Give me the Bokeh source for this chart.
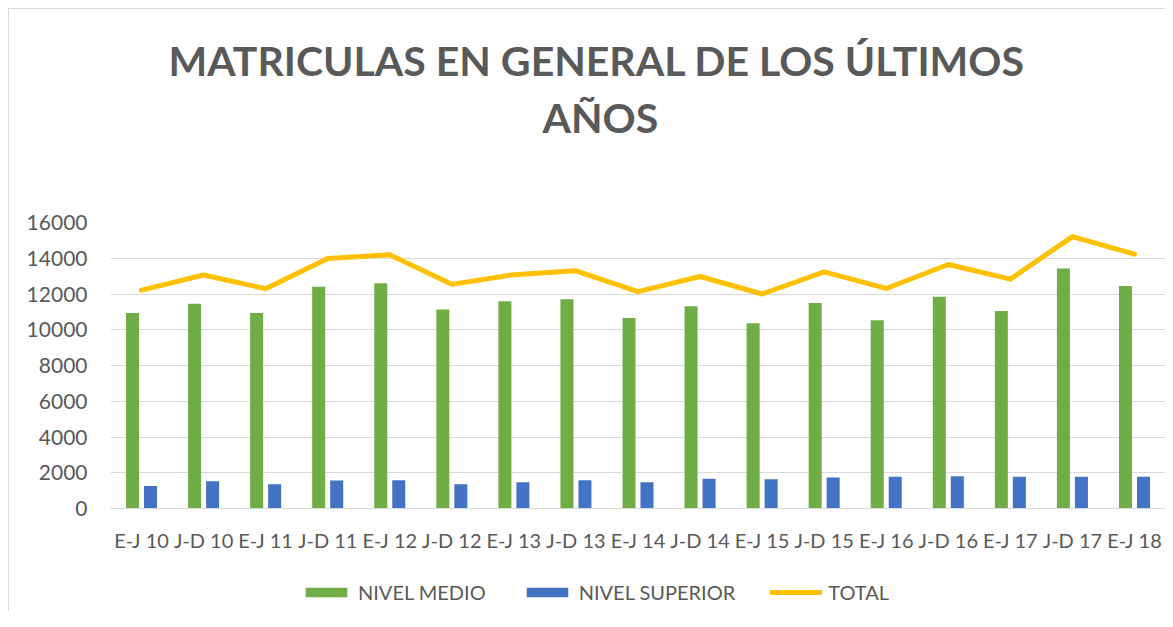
from bokeh.plotting import figure
from bokeh.layouts import column
from bokeh.models import (ColumnDataSource, FactorRange, Range1d, FixedTicker, Legend,
                          LegendItem, Title)
from bokeh.transform import dodge
from bokeh.embed import file_html
from bokeh.resources import INLINE

categories = ["E-J 10", "J-D 10", "E-J 11", "J-D 11", "E-J 12", "J-D 12", "E-J 13", "J-D 13",
              "E-J 14", "J-D 14", "E-J 15", "J-D 15", "E-J 16", "J-D 16", "E-J 17", "J-D 17",
              "E-J 18"]
nivel_medio = [10940, 11460, 10940, 12410, 12600, 11130, 11600, 11710, 10660, 11310, 10370,
               11500, 10530, 11850, 11050, 13430, 12450]
nivel_superior = [1260, 1520, 1350, 1560, 1580, 1350, 1470, 1580, 1470, 1670, 1630, 1740,
                  1780, 1800, 1780, 1780, 1780]
total = [12220, 13060, 12300, 13990, 14190, 12540, 13080, 13300, 12130, 12980, 12000, 13240,
         12310, 13650, 12830, 15210, 14230]
y_ticks = [0, 2000, 4000, 6000, 8000, 10000, 12000, 14000, 16000]

title_line1 = "MATRICULAS EN GENERAL DE LOS ÚLTIMOS"
title_line2 = "AÑOS"
legend_labels = ["NIVEL MEDIO", "NIVEL SUPERIOR", "TOTAL"]

src = ColumnDataSource(dict(cat=categories, medio=nivel_medio, sup=nivel_superior, tot=total))

FONT = "Lato"
TXT = "#595959"
GRID = "#d9d9d9"
GREEN, BLUE, GOLD = "#70AD47", "#4472C4", "#FFC000"

# ---------------- main chart ----------------
p = figure(width=1165, frame_width=1055, frame_height=286,
           x_range=FactorRange(*categories, range_padding=0),
           y_range=Range1d(0, 16000), output_backend="svg", toolbar_location=None,
           min_border_left=110, min_border_right=0, min_border_top=222, min_border_bottom=53,
           background_fill_color="white", border_fill_alpha=0)
p.outline_line_color = None

title_style = dict(align="left", text_font=FONT, text_font_size="41px",
                   text_font_style="bold", text_color=TXT)
spacer = Title(text=" ", standoff=30, **title_style)
t2 = Title(text=title_line2, standoff=0, offset=432, **title_style)
t1 = Title(text=title_line1, standoff=12, offset=58, **title_style)
p.add_layout(spacer, "above")
p.add_layout(t2, "above")
p.add_layout(t1, "above")

bar_kw = dict(width=0.21, source=src, line_color=None)
p.vbar(x=dodge("cat", -0.145, range=p.x_range), top="medio", fill_color=GREEN, **bar_kw)
p.vbar(x=dodge("cat", 0.145, range=p.x_range), top="sup", fill_color=BLUE, **bar_kw)
line_kw = dict(source=src, line_color=GOLD, line_width=5, line_cap="round", line_join="round")
p.line(x="cat", y="tot", **line_kw)

p.xgrid.grid_line_color = None
p.ygrid.grid_line_color = GRID
p.ygrid.grid_line_width = 1

p.yaxis.ticker = FixedTicker(ticks=y_ticks)
p.yaxis.axis_line_color = None
p.yaxis.major_tick_line_color = None
p.yaxis.minor_tick_line_color = None
p.yaxis.major_tick_out = 0
p.yaxis.major_label_standoff = 23
p.yaxis.major_label_text_font = FONT
p.yaxis.major_label_text_font_size = "21px"
p.yaxis.major_label_text_color = TXT

p.xaxis.axis_line_color = GRID
p.xaxis.major_tick_line_color = None
p.xaxis.minor_tick_line_color = None
p.xaxis.major_tick_out = 0
p.xaxis.major_label_standoff = 19
p.xaxis.major_label_text_font = FONT
p.xaxis.major_label_text_font_size = "20px"
p.xaxis.major_label_text_color = TXT

# ---------------- legend strip ----------------
lg = figure(width=1165, height=50, x_range=p.x_range, y_range=p.y_range,
            output_backend="svg", toolbar_location=None,
            x_axis_location=None, y_axis_location=None, min_border=0,
            background_fill_color="white", border_fill_alpha=0)
lg.outline_line_color = None
lg.xgrid.visible = False
lg.ygrid.visible = False
g1 = lg.vbar(x=dodge("cat", -0.145, range=p.x_range), top="medio", fill_color=GREEN,
             visible=False, **bar_kw)
g2 = lg.vbar(x=dodge("cat", 0.145, range=p.x_range), top="sup", fill_color=BLUE,
             visible=False, **bar_kw)
g3 = lg.line(x="cat", y="tot", visible=False, **line_kw)

legend = Legend(items=[LegendItem(label=legend_labels[0], renderers=[g1]),
                       LegendItem(label=legend_labels[1], renderers=[g2]),
                       LegendItem(label=legend_labels[2], renderers=[g3])],
                orientation="horizontal", location=(190, 7),
                glyph_width=52, glyph_height=12, label_standoff=6, spacing=35,
                padding=5, margin=0, border_line_color=None, background_fill_alpha=0,
                label_text_font=FONT, label_text_font_size="20px", label_text_color=TXT)
lg.add_layout(legend, "center")

layout = column(p, lg, spacing=0)
layout.styles = {
    "background": ("linear-gradient(#d9d9d9, #d9d9d9) 8px 8px / 1px 100% no-repeat, "
                   "linear-gradient(#d9d9d9, #d9d9d9) 8px 8px / 100% 1px no-repeat, white"),
}

open("out.html", "w").write(file_html(layout, INLINE))
